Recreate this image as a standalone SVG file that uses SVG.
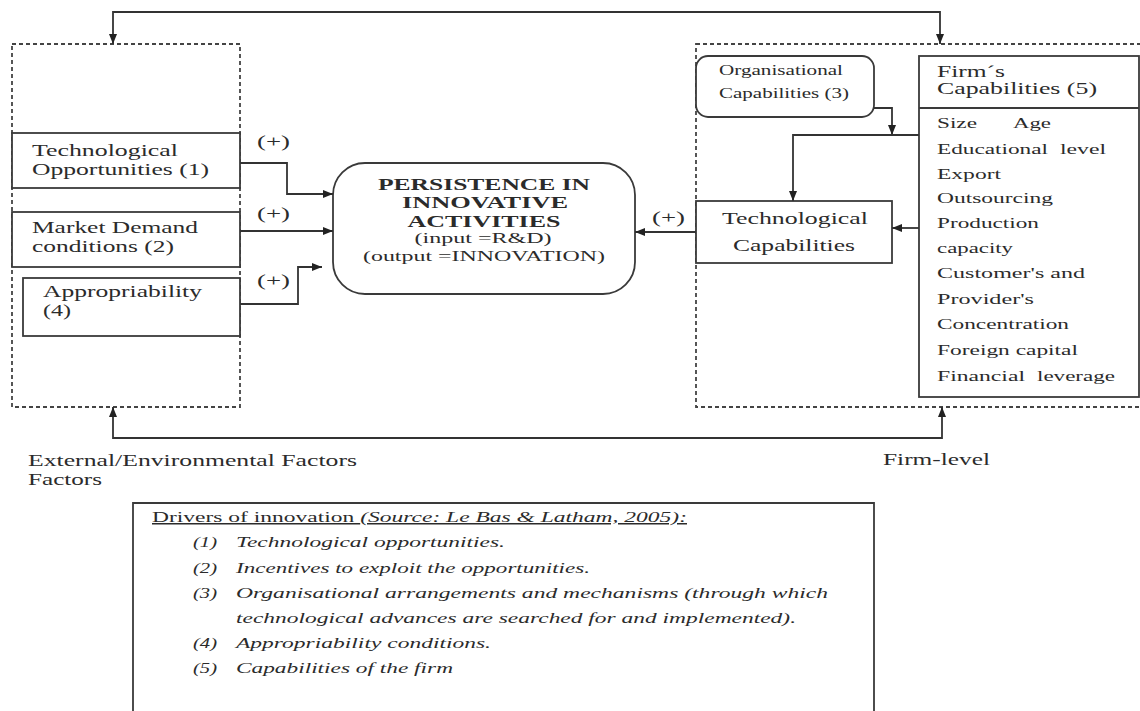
<svg xmlns="http://www.w3.org/2000/svg" width="1140" height="711" viewBox="0 0 1140 711">
<style>
text{font-family:"Liberation Serif","Times New Roman",serif;fill:#2b2b2b}
.lbl{font-size:17px}
.sm{font-size:14px}
.lst{font-size:15px}
.ttl{font-size:16px;font-weight:bold}
.sub{font-size:15px}
.leg{font-size:15px}
.it{font-style:italic}
.box{fill:#fff;stroke:#3a3a3a;stroke-width:1.8}
.dash{fill:none;stroke:#444;stroke-width:1.8;stroke-dasharray:4 3}
.con{fill:none;stroke:#333;stroke-width:1.8}
</style>
<defs>
<marker id="ah" viewBox="0 0 10 8" refX="10" refY="4" markerWidth="10" markerHeight="8" markerUnits="userSpaceOnUse" orient="auto-start-reverse">
<path d="M0,0 L10,4 L0,8 z" fill="#222"/>
</marker>
</defs>
<rect width="1140" height="711" fill="#fff"/>

<g id="external-group">
<rect class="dash" x="12" y="44" width="228" height="363"/>
</g>
<g id="firm-group">
<rect class="dash" x="696" y="44" width="446" height="363"/>
</g>

<g id="tech-opportunities">
<rect class="box" x="12" y="133" width="228" height="55"/>
<text class="lbl" x="32" y="156" textLength="146" lengthAdjust="spacingAndGlyphs">Technological</text>
<text class="lbl" x="32" y="175" textLength="177" lengthAdjust="spacingAndGlyphs">Opportunities (1)</text>
</g>
<g id="market-demand">
<rect class="box" x="12" y="212" width="228" height="55"/>
<text class="lbl" x="32" y="233" textLength="166" lengthAdjust="spacingAndGlyphs">Market Demand</text>
<text class="lbl" x="32" y="252" textLength="142" lengthAdjust="spacingAndGlyphs">conditions (2)</text>
</g>
<g id="appropriability">
<rect class="box" x="23" y="278" width="217" height="58"/>
<text class="lbl" x="43" y="297" textLength="159" lengthAdjust="spacingAndGlyphs">Appropriability</text>
<text class="lbl" x="43" y="316" textLength="28" lengthAdjust="spacingAndGlyphs">(4)</text>
</g>

<g id="persistence">
<rect class="box" x="333" y="163" width="302" height="131" rx="32" ry="32"/>
<text class="ttl" x="484" y="190" text-anchor="middle" textLength="212" lengthAdjust="spacingAndGlyphs">PERSISTENCE IN</text>
<text class="ttl" x="485" y="208" text-anchor="middle" textLength="166" lengthAdjust="spacingAndGlyphs">INNOVATIVE</text>
<text class="ttl" x="484" y="227" text-anchor="middle" textLength="153" lengthAdjust="spacingAndGlyphs">ACTIVITIES</text>
<text class="sub" x="483" y="243" text-anchor="middle" textLength="137" lengthAdjust="spacingAndGlyphs">(input =R&amp;D)</text>
<text class="sub" x="484" y="261" text-anchor="middle" textLength="242" lengthAdjust="spacingAndGlyphs">(output =INNOVATION)</text>
</g>

<g id="organisational-capabilities">
<rect class="box" x="696" y="56" width="178" height="61" rx="12" ry="12"/>
<text class="sm" x="719" y="75" textLength="124" lengthAdjust="spacingAndGlyphs">Organisational</text>
<text class="sm" x="719" y="98" textLength="130" lengthAdjust="spacingAndGlyphs">Capabilities (3)</text>
</g>

<g id="technological-capabilities">
<rect class="box" x="696" y="201" width="196" height="62"/>
<text class="lbl" x="722" y="224" textLength="146" lengthAdjust="spacingAndGlyphs">Technological</text>
<text class="lbl" x="733" y="251" textLength="122" lengthAdjust="spacingAndGlyphs">Capabilities</text>
</g>

<g id="firm-capabilities">
<rect class="box" x="919" y="56" width="220" height="341"/>
<line x1="919" y1="108" x2="1139" y2="108" stroke="#3a3a3a" stroke-width="1.8"/>
<text class="lbl" x="937" y="77" textLength="68" lengthAdjust="spacingAndGlyphs">Firm´s</text>
<text class="lbl" x="937" y="94" textLength="160" lengthAdjust="spacingAndGlyphs">Capabilities (5)</text>
<text class="lst" x="937" y="128" textLength="40" lengthAdjust="spacingAndGlyphs">Size</text>
<text class="lst" x="1013" y="128" textLength="38" lengthAdjust="spacingAndGlyphs">Age</text>
<text class="lst" x="937" y="154" textLength="111" lengthAdjust="spacingAndGlyphs">Educational</text>
<text class="lst" x="1060" y="154" textLength="46" lengthAdjust="spacingAndGlyphs">level</text>
<text class="lst" x="937" y="179" textLength="64" lengthAdjust="spacingAndGlyphs">Export</text>
<text class="lst" x="937" y="203" textLength="116" lengthAdjust="spacingAndGlyphs">Outsourcing</text>
<text class="lst" x="937" y="228" textLength="102" lengthAdjust="spacingAndGlyphs">Production</text>
<text class="lst" x="937" y="253" textLength="76" lengthAdjust="spacingAndGlyphs">capacity</text>
<text class="lst" x="937" y="278" textLength="148" lengthAdjust="spacingAndGlyphs">Customer's and</text>
<text class="lst" x="937" y="304" textLength="97" lengthAdjust="spacingAndGlyphs">Provider's</text>
<text class="lst" x="937" y="329" textLength="132" lengthAdjust="spacingAndGlyphs">Concentration</text>
<text class="lst" x="937" y="355" textLength="141" lengthAdjust="spacingAndGlyphs">Foreign capital</text>
<text class="lst" x="937" y="381" textLength="88" lengthAdjust="spacingAndGlyphs">Financial</text>
<text class="lst" x="1037" y="381" textLength="78" lengthAdjust="spacingAndGlyphs">leverage</text>
</g>

<g id="connectors">
<path class="con" d="M113,44 V12 H940 V44" marker-start="url(#ah)" marker-end="url(#ah)"/>
<path class="con" d="M113,407 V438 H942 V407" marker-start="url(#ah)" marker-end="url(#ah)"/>
<path class="con" d="M240,163 H287 V194 H333" marker-end="url(#ah)"/>
<path class="con" d="M240,231 H333" marker-end="url(#ah)"/>
<path class="con" d="M240,304 H298 V267 H322" marker-end="url(#ah)"/>
<path class="con" d="M696,232 H635" marker-end="url(#ah)"/>
<path class="con" d="M874,108 H892 V135" marker-end="url(#ah)"/>
<path class="con" d="M919,135 H793 V201" marker-end="url(#ah)"/>
<path class="con" d="M919,228 H892" marker-end="url(#ah)"/>
<text class="lbl" x="257" y="147" textLength="33" lengthAdjust="spacingAndGlyphs">(+)</text>
<text class="lbl" x="257" y="219" textLength="33" lengthAdjust="spacingAndGlyphs">(+)</text>
<text class="lbl" x="257" y="286" textLength="33" lengthAdjust="spacingAndGlyphs">(+)</text>
<text class="lbl" x="652" y="223" textLength="33" lengthAdjust="spacingAndGlyphs">(+)</text>
</g>

<g id="captions">
<text class="lbl" x="28" y="466" textLength="329" lengthAdjust="spacingAndGlyphs">External/Environmental Factors</text>
<text class="lbl" x="28" y="485" textLength="74" lengthAdjust="spacingAndGlyphs">Factors</text>
<text class="lbl" x="883" y="465" textLength="107" lengthAdjust="spacingAndGlyphs">Firm-level</text>
</g>

<g id="legend">
<path d="M133,720 V503 H874 V720" fill="none" stroke="#3a3a3a" stroke-width="1.8"/>
<text class="leg" x="152" y="522" text-decoration="underline" textLength="535" lengthAdjust="spacingAndGlyphs">Drivers of innovation <tspan class="it">(Source: Le Bas &amp; Latham, 2005):</tspan></text>
<text class="leg it" x="193" y="547" textLength="24" lengthAdjust="spacingAndGlyphs">(1)</text>
<text class="leg it" x="236" y="547" textLength="269" lengthAdjust="spacingAndGlyphs">Technological opportunities.</text>
<text class="leg it" x="193" y="573" textLength="24" lengthAdjust="spacingAndGlyphs">(2)</text>
<text class="leg it" x="236" y="573" textLength="354" lengthAdjust="spacingAndGlyphs">Incentives to exploit the opportunities.</text>
<text class="leg it" x="193" y="598" textLength="24" lengthAdjust="spacingAndGlyphs">(3)</text>
<text class="leg it" x="236" y="598" textLength="592" lengthAdjust="spacingAndGlyphs">Organisational arrangements and mechanisms (through which</text>
<text class="leg it" x="236" y="623" textLength="560" lengthAdjust="spacingAndGlyphs">technological advances are searched for and implemented).</text>
<text class="leg it" x="193" y="648" textLength="24" lengthAdjust="spacingAndGlyphs">(4)</text>
<text class="leg it" x="236" y="648" textLength="255" lengthAdjust="spacingAndGlyphs">Appropriability conditions.</text>
<text class="leg it" x="193" y="673" textLength="24" lengthAdjust="spacingAndGlyphs">(5)</text>
<text class="leg it" x="236" y="673" textLength="217" lengthAdjust="spacingAndGlyphs">Capabilities of the firm</text>
</g>
</svg>
